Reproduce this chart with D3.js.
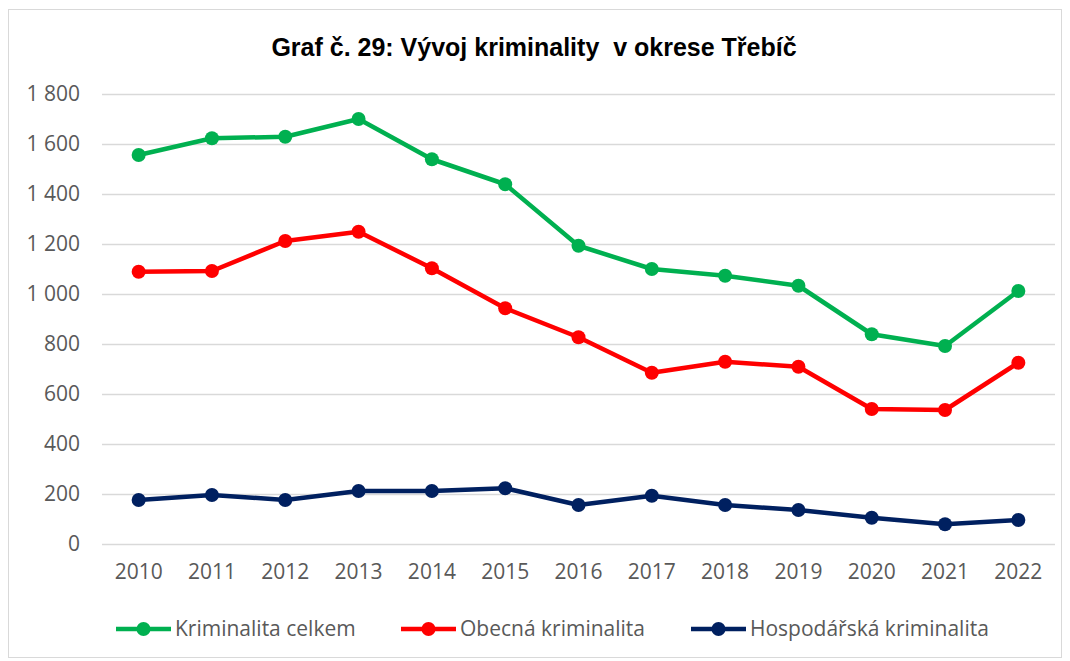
<!DOCTYPE html>
<html><head><meta charset="utf-8">
<script src="https://cdn.jsdelivr.net/npm/d3@7"></script>
<style>body{margin:0;background:#fff}svg{display:block}</style>
</head><body>
<script>
const years = ["2010","2011","2012","2013","2014","2015","2016","2017","2018","2019","2020","2021","2022"];
const celkem = [1556,1623,1629,1700,1539,1439,1193,1100,1073,1033,839,792,1012];
const obecna = [1089,1092,1212,1249,1103,943,827,685,729,709,540,536,725];
const hospodarska = [176,196,176,212,212,223,156,193,156,136,105,79,96];
const yTicks = [0,200,400,600,800,1000,1200,1400,1600,1800];
const seriesNames = ["Kriminalita celkem","Obecná kriminalita","Hospodářská kriminalita"];
const seriesColors = ["#00B050","#FF0000","#002060"];
const titleText = "Graf č. 29: Vývoj kriminality  v okrese Třebíč";

const W = 1070, H = 661;
const svg = d3.select("body").append("svg").attr("width", W).attr("height", H);
svg.append("rect").attr("x", 8.5).attr("y", 9.5).attr("width", 1053).attr("height", 648)
  .attr("fill", "#fff").attr("stroke", "#d9d9d9").attr("stroke-width", 1);

svg.append("text").attr("x", 534).attr("y", 56).attr("text-anchor", "middle")
  .attr("font-family", "Liberation Sans, Arial, sans-serif").attr("font-weight", "bold")
  .attr("font-size", 25).attr("fill", "#000").style("white-space", "pre").text(titleText);

const x = d3.scaleBand().domain(years).range([102, 1055]);
const y = d3.scaleLinear().domain([0, 1800]).range([544, 94]);

const fontTick = "Open Sans, sans-serif";
const gy = svg.append("g").attr("transform", "translate(102,0)")
  .call(d3.axisLeft(y).tickValues(yTicks).tickSize(-953).tickPadding(22)
    .tickFormat(d => d3.format(",")(d).replace(/,/g, " ")));
gy.select(".domain").remove();
gy.selectAll(".tick line").attr("stroke", "#d9d9d9").attr("stroke-width", 1.5);
gy.selectAll(".tick text").attr("font-family", fontTick).attr("font-size", 21).attr("fill", "#595959");

const gx = svg.append("g").attr("transform", "translate(0,544)")
  .call(d3.axisBottom(x).tickSize(0).tickPadding(20));
gx.select(".domain").remove();
gx.selectAll(".tick text").attr("font-family", fontTick).attr("font-size", 21).attr("fill", "#595959");

const allSeries = [celkem, obecna, hospodarska];
const line = d3.line().x((d, i) => x(years[i]) + x.bandwidth() / 2).y(d => y(d));
allSeries.forEach((vals, si) => {
  svg.append("path").datum(vals).attr("d", line).attr("fill", "none")
    .attr("stroke", seriesColors[si]).attr("stroke-width", 4.5).attr("stroke-linejoin", "round");
  svg.append("g").selectAll("circle").data(vals).join("circle")
    .attr("cx", (d, i) => x(years[i]) + x.bandwidth() / 2).attr("cy", d => y(d))
    .attr("r", 7).attr("fill", seriesColors[si]);
});

const legendX = [116, 401, 691];
const lg = svg.append("g");
seriesNames.forEach((n, i) => {
  const g = lg.append("g").attr("transform", `translate(${legendX[i]},629)`);
  g.append("line").attr("x1", 0).attr("x2", 55).attr("stroke", seriesColors[i]).attr("stroke-width", 4.5);
  g.append("circle").attr("cx", 27.5).attr("r", 7).attr("fill", seriesColors[i]);
  g.append("text").attr("x", 59).attr("dy", "0.35em").attr("font-family", fontTick)
    .attr("font-size", 21).attr("fill", "#595959").text(n);
});
</script>
</body></html>
